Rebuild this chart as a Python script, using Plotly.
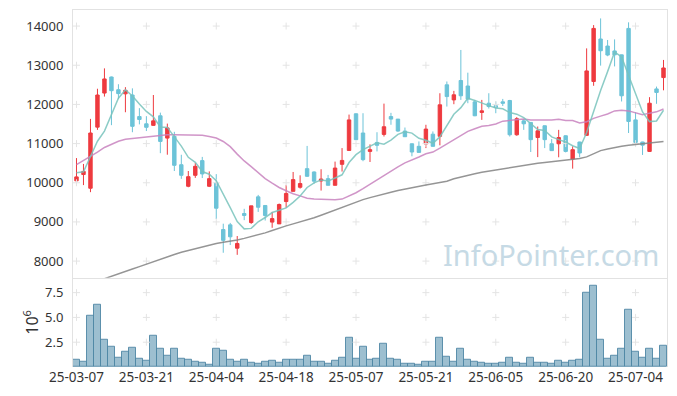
import pandas as pd
import plotly.graph_objects as go

# ---- data ----
start_date = "2025-03-07"
end_date = "2025-07-10"
holidays = ["2025-05-01", "2025-05-05", "2025-05-06", "2025-06-03", "2025-06-06"]

opens = [10050,10210,9860,11420,12290,12700,12375,12270,12240,11690,
         11505,11465,11710,11140,11185,10460,9910,10190,10565,9910,
         9995,8805,8925,8330,9215,8985,9640,9420,8995,8950,
         9520,9780,9885,10360,10275,10045,10105,9935,10470,10825,
         11760,11270,10800,11030,11235,11690,11625,11320,10995,10930,
         10990,11240,11185,12500,12115,12610,12470,12065,11795,12030,
         11965,12065,12100,11225,11580,11540,11155,11455,10995,10995,
         11200,10605,11040,11210,12585,13670,13490,13365,13265,13940,
         11605,11040,10800,12395,12685]
highs = [10630,10480,11630,12400,12920,12710,12515,12440,12410,11905,
         11700,12240,11790,11510,11300,10715,10300,10505,10660,10290,
         10220,8955,8975,8640,9335,9410,9690,9420,9255,9470,
         9945,10275,10190,10940,10290,10345,10200,10540,10885,11740,
         11770,11775,10980,11290,12020,11785,11625,11410,11000,11055,
         11480,11310,12285,12585,12345,13390,12810,12115,12115,12285,
         12075,12140,12115,11675,11620,11545,11435,11460,11115,11350,
         11210,10930,11045,13430,14025,14195,13645,13660,13270,14095,
         11800,11045,12185,12455,13135]
lows = [9920,9940,9760,11350,12200,11470,12140,11800,11290,11490,
        11320,11455,10755,10716,10300,10100,9885,10125,10120,9890,
        9075,8213,8410,8160,9045,8950,9255,9035,8850,8950,
        9360,9780,9850,10150,9975,9800,9935,9935,10285,10825,
        11090,10550,10530,10800,11180,11480,11300,11170,10675,10775,
        10885,10925,10955,11945,12005,12115,12030,11700,11605,11895,
        11775,11960,11180,11200,11350,10785,10655,10885,10810,10650,
        10775,10360,10650,11200,12475,12990,13230,12970,12075,11270,
        11030,10710,10785,12015,12360]
closes = [10150,10290,11270,12240,12650,12350,12275,12360,11440,11615,
          11415,11580,11055,11400,10445,10190,10155,10420,10225,10105,
          9350,8530,8620,8450,9165,9410,9375,9165,9085,9445,
          9725,10080,9980,10165,10040,10095,9935,10375,10570,11605,
          11100,10590,10845,10955,11430,11625,11320,11175,10785,10775,
          11370,10930,11990,12200,12245,12220,12135,11710,11835,11945,
          11920,12030,11225,11635,11505,11100,11325,11100,10820,11155,
          10800,10845,10760,12855,13940,13370,13260,13265,12220,11565,
          11030,10960,12030,12305,12930]
volume_m = [0.74,0.54,5.2,6.25,2.74,2.0,0.94,1.54,1.9,0.84,
            0.64,3.2,1.84,1.14,1.84,0.84,0.74,0.54,0.4,0.2,
            1.84,1.64,0.74,0.54,0.74,0.43,0.33,0.54,0.64,0.43,
            0.7,0.7,0.7,1.14,0.54,0.54,0.3,0.6,0.9,2.9,
            0.8,2.0,0.7,0.8,2.3,0.8,0.7,0.3,0.3,0.2,
            0.5,0.5,2.9,1.0,0.5,1.8,0.7,0.5,0.4,0.3,
            0.3,0.4,0.9,0.4,0.3,0.9,0.4,0.4,0.3,0.6,
            0.4,0.6,0.7,7.5,8.15,2.7,0.8,1.1,1.8,5.8,
            1.5,0.9,1.8,0.8,2.1]
# moving-average values before enough history is visible
ma5_head = [10255, 10280, 10670, 11060]
ma20_head = [10460,10560,10660,10780,10900,10980,11060,11110,11130,11160,
             11180,11200,11215,11225,11225,11225,11220,11220,11210]
ma_long = [7300,7365,7430,7495,7560,7620,7685,7745,7800,7860,
           7925,7990,8050,8110,8170,8225,8270,8315,8360,8410,
           8450,8480,8505,8540,8580,8625,8670,8720,8780,8850,
           8900,8950,9000,9055,9105,9170,9240,9310,9380,9450,
           9510,9570,9620,9670,9720,9760,9800,9840,9875,9910,
           9945,9975,10005,10040,10100,10150,10190,10230,10270,10300,
           10330,10360,10390,10415,10440,10470,10500,10520,10540,10560,
           10580,10600,10620,10660,10740,10820,10860,10900,10930,10960,
           10980,10995,11010,11030,11055]

price_ticks = [8000, 9000, 10000, 11000, 12000, 13000, 14000]
vol_ticks = [2.5, 5.0, 7.5]
vol_tick_text = ["2.5", "5.0", "7.5"]
tick_every = 10

# ---- derived ----
days = pd.bdate_range(start_date, end_date)
days = days[~days.isin(pd.to_datetime(holidays))]
dates = [d.strftime("%y-%m-%d") for d in days]
assert len(dates) == len(closes)

cs = pd.Series(closes, dtype=float)
ma5 = cs.rolling(5).mean().tolist()
ma5[:len(ma5_head)] = ma5_head
ma20 = cs.rolling(20).mean().tolist()
ma20[:len(ma20_head)] = ma20_head

x_ticks = dates[::tick_every]

RED = "#EE3A3F"
BLUE = "#6CC3D8"
FONT = "Noto Sans"
GRID_MARK = dict(symbol="cross-thin", size=5, line=dict(color="#E4E4E4", width=1))

fig = go.Figure()

# grid "+" marks at tick intersections
gx, gy = [], []
for xv in x_ticks:
    for yv in price_ticks:
        gx.append(xv); gy.append(yv)
fig.add_trace(go.Scatter(x=gx, y=gy, mode="markers", xaxis="x", yaxis="y",
                         marker=GRID_MARK, hoverinfo="skip", showlegend=False))
gx2, gy2 = [], []
for xv in x_ticks:
    for yv in vol_ticks:
        gx2.append(xv); gy2.append(yv)
fig.add_trace(go.Scatter(x=gx2, y=gy2, mode="markers", xaxis="x2", yaxis="y2",
                         marker=GRID_MARK, hoverinfo="skip", showlegend=False))

fig.add_trace(go.Candlestick(
    x=dates, open=opens, high=highs, low=lows, close=closes,
    xaxis="x", yaxis="y",
    increasing=dict(line=dict(color=RED, width=1), fillcolor=RED),
    decreasing=dict(line=dict(color=BLUE, width=1), fillcolor=BLUE),
    whiskerwidth=0, showlegend=False))

fig.add_trace(go.Scatter(x=dates, y=ma_long, mode="lines", xaxis="x", yaxis="y",
                         line=dict(color="rgba(130,130,130,0.85)", width=1.5),
                         showlegend=False))
fig.add_trace(go.Scatter(x=dates, y=ma20, mode="lines", xaxis="x", yaxis="y",
                         line=dict(color="rgba(200,130,190,0.85)", width=1.5),
                         showlegend=False))
fig.add_trace(go.Scatter(x=dates, y=ma5, mode="lines", xaxis="x", yaxis="y",
                         line=dict(color="rgba(120,195,188,0.85)", width=1.5),
                         showlegend=False))

fig.add_trace(go.Bar(x=dates, y=volume_m, xaxis="x2", yaxis="y2",
                     marker=dict(color="rgba(110,160,185,0.68)",
                                 line=dict(color="rgba(80,135,165,0.9)", width=1)),
                     showlegend=False))

axis_line = "#E2E2E2"
# the page body has an 8px default margin, so the figure is sized to fit the window
fig.update_layout(
    width=669, height=388,
    margin=dict(l=65, r=10, t=2, b=29, autoexpand=False),
    paper_bgcolor="white", plot_bgcolor="white",
    font=dict(family=FONT, size=13, color="#333333"),
    bargap=0,
    xaxis=dict(domain=[0, 1], anchor="y", type="category", categoryorder="array",
               categoryarray=dates, range=[-0.5, len(dates) - 0.5],
               showticklabels=False, showgrid=False, zeroline=False,
               showline=True, mirror=True, linecolor=axis_line, linewidth=1,
               rangeslider=dict(visible=False), ticks="", automargin=False),
    yaxis=dict(domain=[0.25, 1], anchor="x", range=[7575, 14410],
               tickvals=price_ticks, tickformat="d", showgrid=False, zeroline=False,
               showline=True, mirror=True, linecolor=axis_line, linewidth=1,
               ticks="", ticklabelstandoff=6, automargin=False),
    xaxis2=dict(domain=[0, 1], anchor="y2", type="category", categoryorder="array",
                categoryarray=dates, range=[-0.5, len(dates) - 0.5],
                tickvals=x_ticks, ticktext=x_ticks, showgrid=False, zeroline=False,
                showline=False, ticks="", tickangle=0, automargin=False,
                tickfont=dict(size=13.5)),
    yaxis2=dict(domain=[0, 0.25], anchor="x2", range=[0, 9.0],
                tickvals=vol_ticks, ticktext=vol_tick_text,
                showgrid=False, zeroline=False,
                showline=True, mirror=True, linecolor=axis_line, linewidth=1,
                ticks="", ticklabelstandoff=6, automargin=False,
                title=dict(text="10<sup>6</sup>", standoff=2)),
    annotations=[dict(text="InfoPointer.com", xref="paper", yref="paper",
                      x=0.99, y=0.255, xanchor="right", yanchor="bottom",
                      showarrow=False,
                      font=dict(family=FONT, size=29, color="#C6DAE5"))],
)

fig.write_html("out.html")
